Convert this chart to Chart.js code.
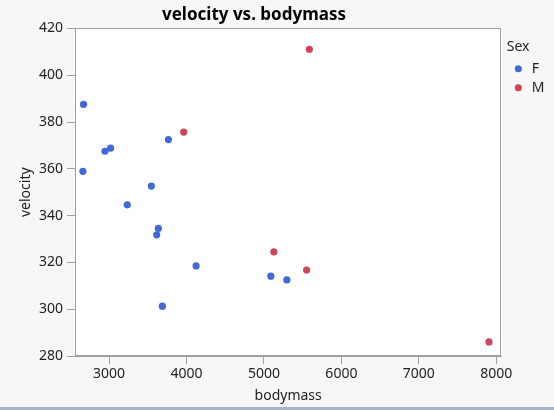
<!DOCTYPE html>
<html><head><meta charset="utf-8">
<script src="https://cdn.jsdelivr.net/npm/chart.js@4/dist/chart.umd.min.js"></script>
<style>
html,body{margin:0;padding:0;background:#f7f7f7;overflow:hidden;}
#wrap{position:relative;width:554px;height:407px;}
#bar{width:554px;height:3px;background:#a9b3c8;}
</style></head><body>
<div id="wrap"><canvas id="c" width="554" height="407"></canvas></div>
<div id="bar"></div>
<script>
const chartTitle = 'velocity vs. bodymass';
const xTitle = 'bodymass';
const yTitle = 'velocity';
const legendTitle = 'Sex';
const seriesNames = ['F', 'M'];
const seriesColors = ['#4169d8', '#d0455a'];
const fBodymass = [2670, 2662, 2947, 3019, 3766, 3546, 3235, 3636, 3615, 4124, 3688, 5089, 5296];
const fVelocity = [387.5, 358.9, 367.5, 368.8, 372.5, 352.6, 344.6, 334.5, 331.8, 318.5, 301.3, 314.1, 312.5];
const mBodymass = [3964, 5586, 5128, 5551, 7906];
const mVelocity = [375.7, 411.1, 324.5, 316.7, 286.0];
const xTicks = [3000, 4000, 5000, 6000, 7000, 8000];
const yTicks = [280, 300, 320, 340, 360, 380, 400, 420];
const xRange = [2560, 8065];

const FONT = "'Noto Sans', 'Open Sans', sans-serif";

function toPoints(xs, ys) { return xs.map((x, i) => ({x: x, y: ys[i]})); }

const framePlugin = {
  id: 'frame',
  afterLayout(chart) {
    if (chart.legend) { chart.legend.left += 5.5; chart.legend.right += 5.5; }
  },
  beforeDraw(chart) {
    const {ctx, chartArea: a} = chart;
    ctx.save();
    ctx.fillStyle = '#ffffff';
    ctx.fillRect(a.left, a.top, a.right - a.left, a.bottom - a.top);
    ctx.restore();
    if (chart.titleBlock) { chart.titleBlock.left = 0; chart.titleBlock.right = 508; }
  },
  afterDatasetsDraw(chart) {
    const {ctx, chartArea: a} = chart;
    ctx.save();
    ctx.strokeStyle = '#a0a0a0';
    ctx.lineWidth = 1;
    ctx.strokeRect(Math.round(a.left) + 0.5, Math.round(a.top) + 0.5, Math.round(a.right - a.left) - 1, Math.round(a.bottom - a.top) - 1);
    ctx.restore();
  }
};

new Chart(document.getElementById('c'), {
  type: 'scatter',
  data: {
    datasets: [
      {label: seriesNames[0], data: toPoints(fBodymass, fVelocity), backgroundColor: seriesColors[0], borderColor: seriesColors[0], pointRadius: 3.6, pointBorderWidth: 0, pointStyle: 'circle'},
      {label: seriesNames[1], data: toPoints(mBodymass, mVelocity), backgroundColor: seriesColors[1], borderColor: seriesColors[1], pointRadius: 3.6, pointBorderWidth: 0, pointStyle: 'circle'}
    ]
  },
  options: {
    responsive: false,
    animation: false,
    events: [],
    layout: {padding: {left: 0, right: 5, top: 0, bottom: 0}},
    plugins: {
      title: {display: true, text: chartTitle, color: '#000', font: {family: FONT, size: 17, weight: 'bold'}, padding: {top: 5, bottom: 3}},
      legend: {
        display: true, position: 'right', align: 'start',
        title: {display: true, text: legendTitle, position: 'start', color: '#222', font: {family: FONT, size: 14}, padding: {top: 40, bottom: 0}},
        labels: {usePointStyle: true, pointStyle: 'circle', boxWidth: 13, boxHeight: 5, padding: 5, color: '#222', font: {family: FONT, size: 14}}
      },
      tooltip: {enabled: false}
    },
    scales: {
      x: {
        type: 'linear', min: xRange[0], max: xRange[1],
        afterBuildTicks(s) { s.ticks = xTicks.map(v => ({value: v})); },
        afterFit(s) { s.height = 51; },
        grid: {display: true, drawOnChartArea: false, drawTicks: true, tickLength: 8, color: '#a0a0a0'},
        border: {display: true, color: '#a0a0a0'},
        ticks: {color: '#222', font: {family: FONT, size: 14}, padding: 2, maxRotation: 0, callback: v => String(v)},
        title: {display: true, text: xTitle, color: '#222', font: {family: FONT, size: 14}, padding: {top: 0, bottom: 3}}
      },
      y: {
        type: 'linear', min: yTicks[0], max: yTicks[yTicks.length - 1],
        afterBuildTicks(s) { s.ticks = yTicks.map(v => ({value: v})); },
        afterFit(s) { s.width = 75; },
        grid: {display: true, drawOnChartArea: false, drawTicks: true, tickLength: 8, color: '#a0a0a0'},
        border: {display: true, color: '#a0a0a0'},
        ticks: {color: '#222', font: {family: FONT, size: 14}, padding: 4, callback: v => String(v)},
        title: {display: true, text: yTitle, color: '#222', font: {family: FONT, size: 14}, padding: {top: 18, bottom: 0}}
      }
    }
  },
  plugins: [framePlugin]
});
</script>
</body></html>
